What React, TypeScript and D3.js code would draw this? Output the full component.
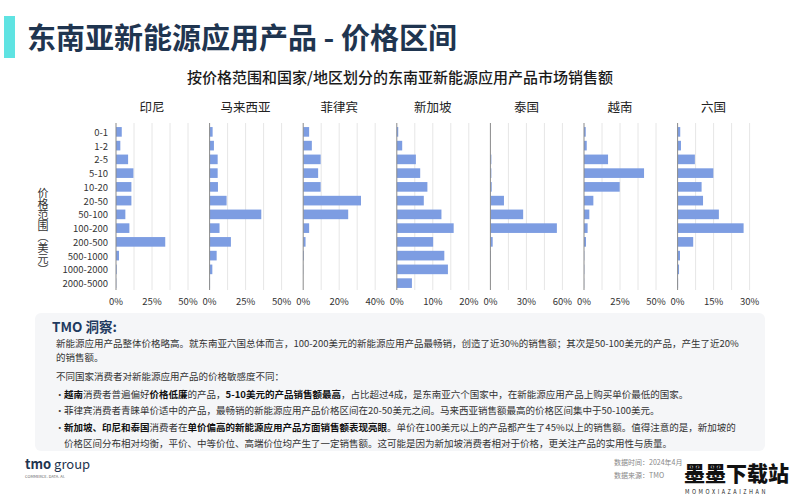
import React from 'react';
import * as d3 from 'd3';

const priceRanges = ['0-1', '1-2', '2-5', '5-10', '10-20', '20-50', '50-100', '100-200', '200-500', '500-1000', '1000-2000', '2000-5000'];
const countries = ['印尼', '马来西亚', '菲律宾', '新加坡', '泰国', '越南', '六国'];
const indonesia = [4.0, 3.0, 8.4, 12.1, 10.7, 10.7, 6.5, 9.3, 34.2, 2.1, 0.5, 0.2];
const malaysia = [2.1, 3.0, 5.6, 5.6, 5.8, 11.8, 35.9, 6.9, 14.8, 4.9, 1.9, 0.3];
const philippines = [3.3, 4.8, 9.7, 8.3, 9.7, 32.1, 25.0, 3.3, 1.3, 0.4, 0.1, 0];
const singapore = [0.4, 1.5, 5.3, 6.5, 8.5, 7.5, 12.4, 15.8, 10.1, 13.2, 14.2, 4.2];
const thailand = [0.1, 0.1, 0.8, 0.8, 1.1, 11.3, 27.3, 55.4, 1.9, 0.5, 0.2, 0];
const vietnam = [1.2, 1.9, 16.7, 41.7, 24.8, 6.5, 3.7, 2.5, 1.4, 0.2, 0.2, 0.1];
const sixCountries = [1.1, 1.4, 7.2, 14.9, 10.0, 10.6, 17.2, 27.5, 6.5, 1.0, 0.6, 0.2];
const seriesValues = [indonesia, malaysia, philippines, singapore, thailand, vietnam, sixCountries];
const axisMax = [50, 50, 40, 20, 60, 50, 30];
const axisStep = [25, 25, 20, 10, 30, 25, 15];

const titleText = '东南亚新能源应用产品 - 价格区间';
const subtitleText = '按价格范围和国家/地区划分的东南亚新能源应用产品市场销售额';
const yAxisTitle = '价格范围（美元）';

type Seg = { t: string; b?: boolean };
const insightLines: { segs: Seg[]; bullet?: boolean; indent?: boolean }[] = [
  { segs: [{ t: '新能源应用产品整体价格略高。就东南亚六国总体而言，100-200美元的新能源应用产品最畅销，创造了近30%的销售额；其次是50-100美元的产品，产生了近20%' }] },
  { segs: [{ t: '的销售额。' }] },
  { segs: [{ t: '不同国家消费者对新能源应用产品的价格敏感度不同：' }] },
  { bullet: true, segs: [{ t: '越南', b: true }, { t: '消费者普遍偏好' }, { t: '价格低廉', b: true }, { t: '的产品，' }, { t: '5-10美元的产品销售额最高', b: true }, { t: '，占比超过4成，是东南亚六个国家中，在新能源应用产品上购买单价最低的国家。' }] },
  { bullet: true, segs: [{ t: '菲律宾消费者青睐单价适中的产品，最畅销的新能源应用产品价格区间在20-50美元之间。马来西亚销售额最高的价格区间集中于50-100美元。' }] },
  { bullet: true, segs: [{ t: '新加坡、印尼和泰国', b: true }, { t: '消费者在' }, { t: '单价偏高的新能源应用产品方面销售额表现亮眼', b: true }, { t: '。单价在100美元以上的产品都产生了45%以上的销售额。值得注意的是，新加坡的' }] },
  { indent: true, segs: [{ t: '价格区间分布相对均衡，平价、中等价位、高端价位均产生了一定销售额。这可能是因为新加坡消费者相对于价格，更关注产品的实用性与质量。' }] },
];
const insightLineY = [347, 361, 380, 398, 414, 431, 447];

const FONT = '"Noto Sans CJK SC", "Noto Sans", sans-serif';
const BAR = '#7d9de2';

export default function App() {
  const W = 800, H = 500;
  const plotTop = 125, plotBottom = 290;
  const panelX0 = 116, panelGap = 93.6, panelW = 72;

  const y = d3.scaleBand<string>().domain(priceRanges).range([plotTop, plotBottom]).paddingInner(0.3).paddingOuter(0.15);

  return (
    <svg width={W} height={H} style={{ position: 'absolute', left: 0, top: 0, background: '#fff' }} fontFamily={FONT}>
      <rect x={0} y={0} width={W} height={H} fill="#ffffff" />
      {/* Title */}
      <rect x={4} y={16} width={11} height={42} fill="#5fe3e2" />
      <text x={27} y={49} fontSize={29} fontWeight={700} fill="#1f3550">{titleText}</text>
      <text x={400} y={83} fontSize={15} fontWeight={500} fill="#1a1a1a" textAnchor="middle">{subtitleText}</text>

      {/* y axis title */}
      <text x={43} y={231} fontSize={11} fill="#333" textAnchor="middle" style={{ writingMode: 'vertical-rl' }}>{yAxisTitle}</text>

      {/* y tick labels */}
      {priceRanges.map((p) => (
        <text key={p} x={108} y={(y(p) as number) + y.bandwidth() / 2} fontSize={9.5} fill="#333" textAnchor="end" dominantBaseline="central">{p}</text>
      ))}

      {countries.map((c, i) => {
        const x0 = panelX0 + i * panelGap;
        const x = d3.scaleLinear().domain([0, axisMax[i]]).range([x0, x0 + panelW]);
        const grid = d3.range(axisStep[i] / 2, axisMax[i] + 1e-9, axisStep[i] / 2);
        const ticks = d3.range(0, axisMax[i] + 1e-9, axisStep[i]);
        const vals = seriesValues[i];
        return (
          <g key={c}>
            <text x={x0 + panelW / 2} y={106} fontSize={12.5} fill="#222" textAnchor="middle" dominantBaseline="central">{c}</text>
            {grid.map((g) => (
              <line key={g} x1={x(g)} x2={x(g)} y1={plotTop - 2} y2={plotBottom} stroke="#e6e6e6" strokeWidth={1} />
            ))}
            {vals.map((v, j) => (
              <rect key={j} x={x(0)} y={y(priceRanges[j])} width={Math.max(0, x(v) - x(0))} height={y.bandwidth()} fill={BAR} />
            ))}
            <line x1={x(0)} x2={x(0)} y1={plotTop - 2} y2={plotBottom} stroke="#8a8a8a" strokeWidth={1} />
            {ticks.map((t) => (
              <text key={t} x={x(t)} y={301} fontSize={9.5} fill="#333" textAnchor="middle" dominantBaseline="central">{t}%</text>
            ))}
          </g>
        );
      })}

      {/* Insight box */}
      <rect x={35} y={313} width={730} height={138} rx={6} fill="#f5f6f8" />
      <text x={52} y={332} fontSize={13.5} fontWeight={700} fill="#1f3a5f">TMO 洞察:</text>
      {insightLines.map((ln, i) => (
        <g key={i}>
          {ln.bullet && <text x={55} y={insightLineY[i]} fontSize={9.5} fill="#444">·</text>}
          <text x={ln.bullet || ln.indent ? 64 : 56} y={insightLineY[i]} fontSize={9.5} fill="#333">
            {ln.segs.map((s, k) => (
              <tspan key={k} fontWeight={s.b ? 700 : 400} fill={s.b ? '#111' : '#333'}>{s.t}</tspan>
            ))}
          </text>
        </g>
      ))}

      {/* Footer */}
      <text x={25} y={469} fontSize={13} fill="#1f3550">
        <tspan fontWeight={700}>tmo</tspan>
        <tspan fontWeight={400}> group</tspan>
      </text>
      <text x={25} y={478} fontSize={4} fill="#666">COMMERCE. DATA. AI.</text>
      <text x={614} y={465} fontSize={7} fill="#888">数据时间：2024年4月</text>
      <text x={614} y={478} fontSize={7} fill="#888">数据来源：TMO</text>
      <text x={684} y={481} fontSize={21} fontWeight={900} fill="#111">墨墨下载站</text>
      <text x={685} y={494} fontSize={5.5} fill="#222" letterSpacing={2.5}>MOMOXIAZAIZHAN</text>
    </svg>
  );
}
